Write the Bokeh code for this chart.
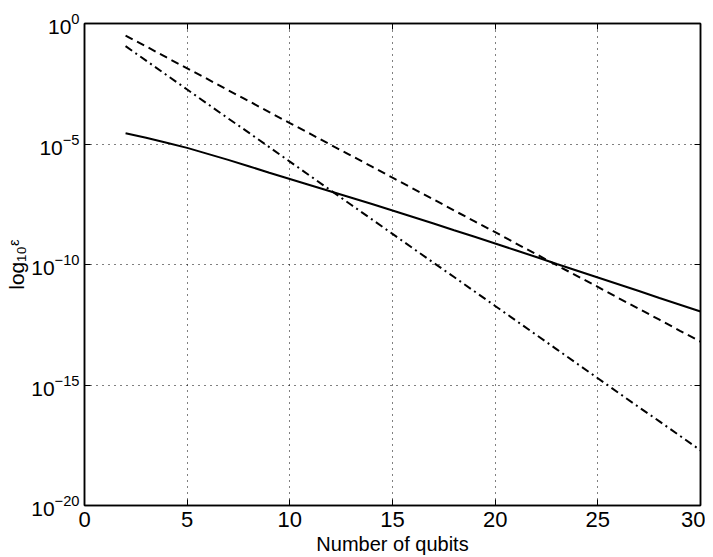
from bokeh.plotting import figure
from bokeh.models import (Range1d, FixedTicker, LinearAxis, LogAxis, CustomJSTickFormatter)
from bokeh.embed import file_html
from bokeh.resources import INLINE

qubits = list(range(2, 31))

# log10 of epsilon
solid_log = [-4.55, -4.74, -4.95, -5.16, -5.41, -5.66, -5.92, -6.19, -6.45, -6.71,
             -6.97, -7.23, -7.49, -7.76, -8.03, -8.30, -8.58, -8.85, -9.13, -9.41,
             -9.69, -9.98, -10.26, -10.54, -10.82, -11.10, -11.39, -11.67, -11.95]
dashed_log = [-0.50, -0.95, -1.41, -1.86, -2.31, -2.77, -3.22, -3.68, -4.13, -4.58,
              -5.04, -5.49, -5.94, -6.40, -6.85, -7.30, -7.76, -8.21, -8.66, -9.12,
              -9.57, -10.03, -10.48, -10.93, -11.39, -11.84, -12.29, -12.75, -13.20]
dashdot_log = [-0.94, -1.54, -2.14, -2.74, -3.34, -3.94, -4.53, -5.13, -5.73, -6.33,
               -6.93, -7.53, -8.13, -8.73, -9.33, -9.93, -10.52, -11.12, -11.72, -12.32,
               -12.92, -13.52, -14.12, -14.72, -15.32, -15.92, -16.51, -17.11, -17.71]

x_ticks = [0, 5, 10, 15, 20, 25, 30]
y_ticks = [1e-20, 1e-15, 1e-10, 1e-5, 1e0]

FONT = "Liberation Sans"

p = figure(frame_width=616, frame_height=482, output_backend="svg", toolbar_location=None,
           y_axis_type="log", x_range=Range1d(0, 30), y_range=Range1d(1e-20, 1e0),
           min_border_left=84, min_border_right=5, min_border_top=23, min_border_bottom=45)

p.line(qubits, [10 ** v for v in solid_log], line_color="black", line_width=2)
p.line(qubits, [10 ** v for v in dashed_log], line_color="black", line_width=2,
       line_dash="8 5")
p.line(qubits, [10 ** v for v in dashdot_log], line_color="black", line_width=2,
       line_dash="8 4 2 4")

p.outline_line_color = "black"
p.outline_line_width = 1.5

for ax in p.xaxis:
    ax.ticker = FixedTicker(ticks=x_ticks)
for ax in p.yaxis:
    ax.ticker = FixedTicker(ticks=y_ticks)

for ax in list(p.xaxis) + list(p.yaxis):
    ax.major_tick_in = 6
    ax.major_tick_out = 0
    ax.minor_tick_in = 0
    ax.minor_tick_out = 0
    ax.axis_line_color = "black"
    ax.axis_line_width = 1.5
    ax.major_tick_line_color = "black"
    ax.major_label_text_font = FONT
    ax.major_label_text_font_size = "22px"
    ax.major_label_text_color = "black"
    ax.axis_label_text_font = FONT
    ax.axis_label_text_font_size = "20px"
    ax.axis_label_text_font_style = "normal"
    ax.axis_label_text_color = "black"

p.xaxis.axis_label = "Number of qubits"
p.xaxis.major_label_standoff = 6
p.xaxis.axis_label_standoff = 3
p.yaxis.major_label_text_font_size = "21px"
p.yaxis.major_label_standoff = 5
p.yaxis.axis_label = "log₁₀ᵋ"
p.yaxis.axis_label_text_font_size = "21px"
p.yaxis.axis_label_standoff = 0

blank = CustomJSTickFormatter(code="return ''")
top = LinearAxis(ticker=FixedTicker(ticks=x_ticks), formatter=blank,
                 major_tick_in=6, major_tick_out=0, minor_tick_in=0, minor_tick_out=0,
                 axis_line_width=1.5, major_label_text_font_size="0px")
right = LogAxis(ticker=FixedTicker(ticks=y_ticks), formatter=blank,
                major_tick_in=6, major_tick_out=0, minor_tick_in=0, minor_tick_out=0,
                axis_line_width=1.5, major_label_text_font_size="0px")
p.add_layout(top, "above")
p.add_layout(right, "right")

p.xgrid.ticker = FixedTicker(ticks=x_ticks)
p.ygrid.ticker = FixedTicker(ticks=y_ticks)
for g in list(p.xgrid) + list(p.ygrid):
    g.grid_line_color = "black"
    g.grid_line_dash = "1 5"
    g.grid_line_width = 1

p.background_fill_color = "white"
p.border_fill_color = "white"

open("out.html", "w").write(file_html(p, INLINE))
